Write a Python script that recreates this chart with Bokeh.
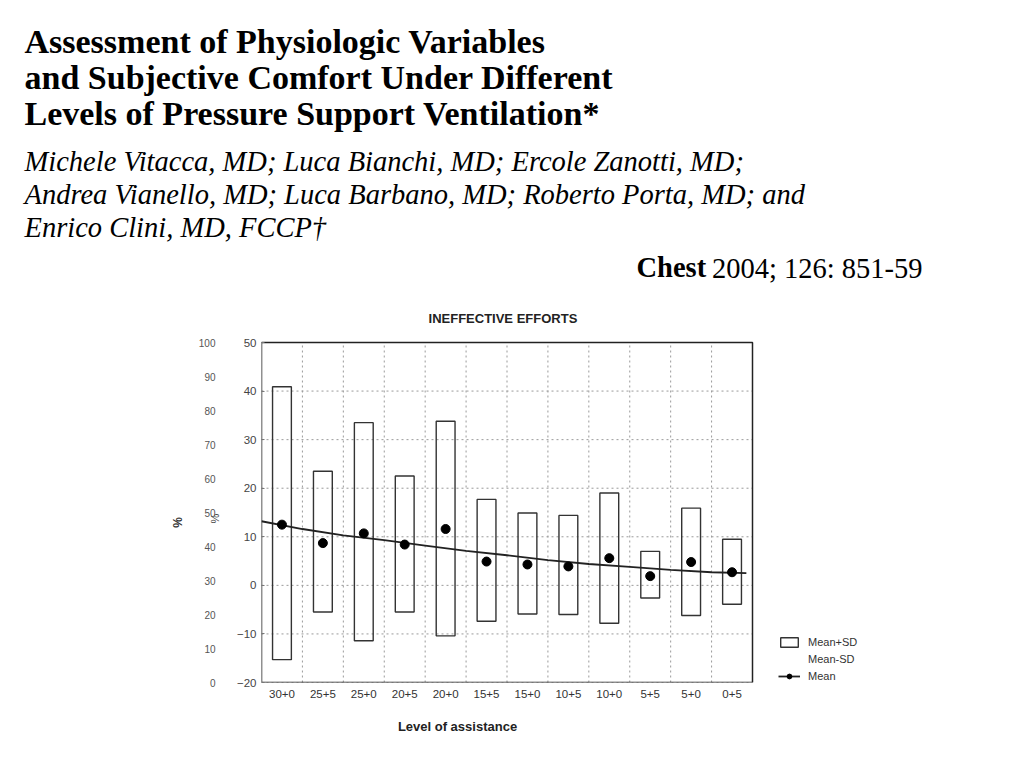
import math
from bokeh.plotting import figure
from bokeh.models import (Range1d, FixedTicker, LinearAxis, Legend, LegendItem,
                          ColumnDataSource, Label)
from bokeh.embed import file_html
from bokeh.resources import INLINE

# ---------------- data ----------------
categories = ["30+0", "25+5", "25+0", "20+5", "20+0", "15+5",
              "15+0", "10+5", "10+0", "5+5", "5+0", "0+5"]
mean = [12.5, 8.7, 10.7, 8.4, 11.6, 4.9, 4.3, 3.9, 5.6, 1.9, 4.8, 2.7]
mean_plus_sd = [40.9, 23.5, 33.5, 22.5, 33.8, 17.7, 14.9, 14.4, 19.0, 7.0, 15.9, 9.5]
mean_minus_sd = [-15.3, -5.5, -11.4, -5.5, -10.4, -7.4, -5.9, -6.0, -7.8, -2.6, -6.2, -3.9]
# fitted trend line (x in category units, 0 = left edge)
trend_x = [0, 1, 2, 3, 4, 5, 6, 7, 8, 9, 10, 11, 11.85]
trend_y = [13.2, 11.6, 10.3, 9.3, 8.2, 7.1, 6.2, 5.2, 4.4, 3.8, 3.2, 2.7, 2.5]
y_ticks = [-20, -10, 0, 10, 20, 30, 40, 50]
pct_ticks = [0, 10, 20, 30, 40, 50, 60, 70, 80, 90, 100]

chart_title = "INEFFECTIVE EFFORTS"
x_title = "Level of assistance"
y_title = "%"
title_lines = ["Assessment of Physiologic Variables",
               "and Subjective Comfort Under Different",
               "Levels of Pressure Support Ventilation*"]
author_lines = ["Michele Vitacca, MD; Luca Bianchi, MD; Ercole Zanotti, MD;",
                "Andrea Vianello, MD; Luca Barbano, MD; Roberto Porta, MD; and",
                "Enrico Clini, MD, FCCP\u2020"]
journal = "Chest"
citation = "2004; 126: 851-59"

# ---------------- layout (canvas pixels) ----------------
W, H = 1008, 752
BOX_L, BOX_R, BOX_T, BOX_B = 261, 752, 342, 682   # the chart box
FR, FT = 882, 300                                  # frame extends right (legend) and up (title)
n = len(categories)
y_lo, y_hi = y_ticks[0], y_ticks[-1]
ppx = (BOX_R - BOX_L) / n
ppy = (BOX_B - BOX_T) / (y_hi - y_lo)
x_end = (FR - BOX_L) / ppx
y_end = y_hi + (BOX_T - FT) / ppy
pct_end = pct_ticks[-1] + (BOX_T - FT) / ((BOX_B - BOX_T) / pct_ticks[-1])

centers = [i + 0.5 for i in range(n)]
sans = "Liberation Sans"
serif = "Liberation Serif"

p = figure(width=W, height=H, x_range=Range1d(0, x_end), y_range=Range1d(y_lo, y_end),
           output_backend="svg", toolbar_location=None, title=None,
           min_border_left=BOX_L, min_border_right=W - FR, min_border_top=FT,
           min_border_bottom=H - BOX_B)
p.outline_line_color = None
p.background_fill_color = "white"
p.border_fill_color = "white"
p.xgrid.visible = False
p.ygrid.visible = False

# grid lines restricted to the chart box
grid_style = dict(line_color="#9a9a9a", line_dash="2 3", line_width=1)
p.segment(x0=[0] * len(y_ticks), x1=[n] * len(y_ticks), y0=y_ticks, y1=y_ticks, **grid_style)
vx = list(range(1, n))
p.segment(x0=vx, x1=vx, y0=[y_lo] * len(vx), y1=[y_hi] * len(vx), **grid_style)
# chart box
p.quad(left=[0], right=[n], bottom=[y_lo], top=[y_hi], fill_color=None,
       line_color="#222222", line_width=1.5)

# x axis
xa = p.xaxis[0]
xa.bounds = (0, n)
xa.ticker = FixedTicker(ticks=centers)
xa.major_label_overrides = {c: lab for c, lab in zip(centers, categories)}
xa.major_tick_line_color = None
xa.minor_tick_line_color = None
xa.axis_line_color = None
xa.major_label_text_font = sans
xa.major_label_text_font_size = "11.5px"
xa.major_label_text_color = "#333333"
xa.major_label_standoff = 1

# main y axis
ya = p.yaxis[0]
ya.bounds = (y_lo, y_hi)
ya.ticker = FixedTicker(ticks=y_ticks)
ya.major_tick_in = 3
ya.major_tick_out = 0
ya.major_tick_line_color = "#777777"
ya.minor_tick_line_color = None
ya.axis_line_color = None
ya.major_label_text_font = sans
ya.major_label_text_font_size = "11.5px"
ya.major_label_text_color = "#444444"
ya.major_label_standoff = 5

# outer 0-100 axis
p.extra_y_ranges = {"pct": Range1d(0, pct_end)}
pa = LinearAxis(y_range_name="pct", ticker=FixedTicker(ticks=pct_ticks),
                bounds=(pct_ticks[0], pct_ticks[-1]))
pa.axis_line_color = None
pa.major_tick_line_color = None
pa.minor_tick_line_color = None
pa.major_label_text_font = sans
pa.major_label_text_font_size = "10px"
pa.major_label_text_color = "#555555"
pa.major_label_standoff = 12
p.add_layout(pa, "left")

# marks
src = ColumnDataSource(dict(x=centers, top=mean_plus_sd, bottom=mean_minus_sd, mean=mean))
bars = p.vbar(x="x", width=0.46, top="top", bottom="bottom", source=src,
              fill_color=None, line_color="#333333", line_width=1.4)
trend = p.line(trend_x, trend_y, line_color="#222222", line_width=1.8)
dots = p.scatter("x", "mean", source=src, size=9, fill_color="black", line_color="black")
blank = p.scatter([0], [0], size=1, fill_alpha=0, line_alpha=0)

# chart title (inside the extended frame, above the box)
p.add_layout(Label(x=n / 2 - 0.1, y=BOX_B - 318, x_units="data", y_units="screen",
                   text=chart_title, text_font=sans, text_font_size="13px",
                   text_font_style="bold", text_color="#222222",
                   text_baseline="middle", text_align="center"))

# legend (inside the extended frame, right of the box)
legend = Legend(items=[LegendItem(label="Mean+SD", renderers=[bars]),
                       LegendItem(label="Mean-SD", renderers=[blank]),
                       LegendItem(label="Mean", renderers=[trend, dots])],
                location=(778 - BOX_L, 0), border_line_color=None, background_fill_alpha=0,
                label_text_font=sans, label_text_font_size="11px",
                label_text_color="#333333", glyph_width=22, glyph_height=12,
                label_height=13, spacing=4, padding=0, margin=0, label_standoff=8)
p.add_layout(legend, "center")

# axis titles (side panels, placed outward from the axes)
p.add_layout(Label(x=457 - BOX_L, y=-11, x_units="screen", y_units="screen",
                   text=x_title, text_font=sans, text_font_size="13px",
                   text_font_style="bold", text_color="#222222",
                   text_baseline="middle", text_align="center"), "below")
p.add_layout(Label(x=31, y=BOX_B - 518, x_units="screen", y_units="screen",
                   text=y_title, text_font=sans, text_font_size="11px", angle=math.pi / 2,
                   text_color="#444444", text_baseline="middle", text_align="center"), "left")
p.add_layout(Label(x=8, y=BOX_B - 522, x_units="screen", y_units="screen",
                   text=y_title, text_font=sans, text_font_size="12px", angle=math.pi / 2,
                   text_font_style="bold", text_color="#333333",
                   text_baseline="middle", text_align="center"), "left")

# ---------------- header (panel above, stacked upward from the frame) ----------------
def add_label(txt, x, y, size, style, lh, baseline, align="left"):
    p.add_layout(Label(x=x, y=y, x_units="screen", y_units="screen",
                       text=txt, text_font=serif, text_font_size=size,
                       text_font_style=style, text_color="black",
                       text_line_height=lh, text_baseline=baseline,
                       text_align=align), "above")

add_label(citation, 922 - BOX_L, 32, "28.5px", "normal", 0.8, "alphabetic", align="right")
add_label(journal, 636 - BOX_L, 2, "28.5px", "bold", 0.8, "alphabetic")
add_label("\n".join(author_lines), 24 - BOX_L, 93, "28.5px", "italic", 1.08, "top")
add_label("\n".join(title_lines), 24 - BOX_L, 118, "34px", "bold", 0.98, "top")

open("out.html", "w").write(file_html(p, INLINE))
